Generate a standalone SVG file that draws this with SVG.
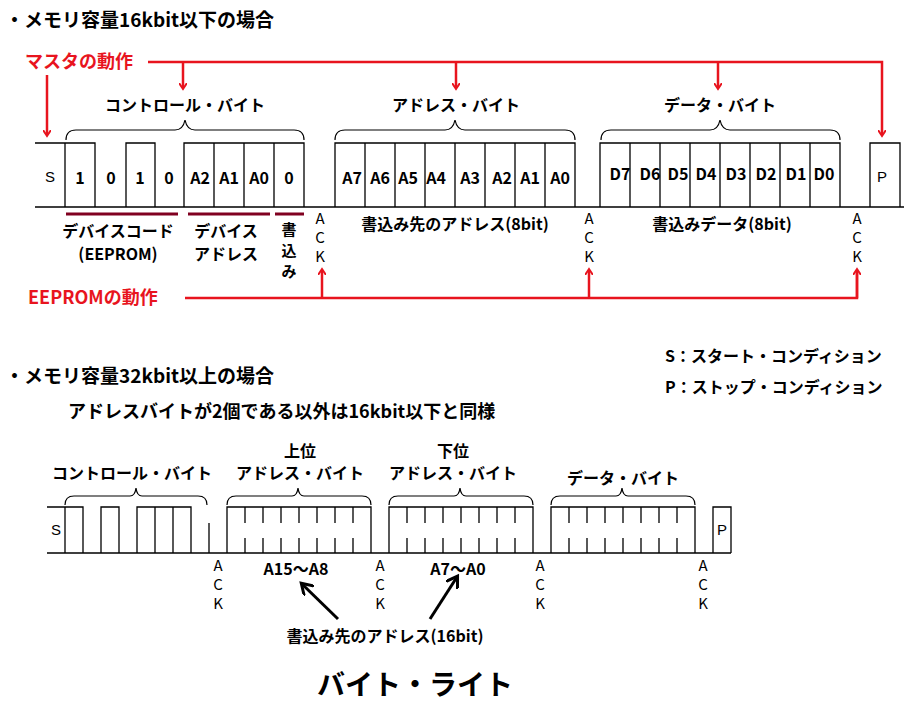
<svg xmlns="http://www.w3.org/2000/svg" width="906" height="707" viewBox="0 0 906 707">
<defs>
<style>
text{font-family:"Noto Sans CJK JP","Liberation Sans",sans-serif;fill:#000}
.b{font-weight:bold;font-size:16px}
.h{font-weight:bold;font-size:19px}
.s{font-size:15px;font-family:"Liberation Sans",sans-serif}
.r{fill:#e8141e;font-weight:bold;font-size:18px}
.w{fill:none;stroke:#000;stroke-width:1.3}
.br{fill:none;stroke:#000;stroke-width:1.2}
.rl{stroke:#e8141e;stroke-width:2.5;fill:none}
.u{stroke:#800020;stroke-width:3}
.k{stroke:#000;stroke-width:3;fill:none}
</style>
<marker id="ra" markerWidth="8" markerHeight="8" refX="5" refY="4" orient="auto" markerUnits="userSpaceOnUse" viewBox="0 0 8 8"><path d="M0,0L6,4L0,8" fill="none" stroke="#e8141e" stroke-width="2"/></marker>
<marker id="ka" markerWidth="14" markerHeight="14" refX="10" refY="7" orient="auto" markerUnits="userSpaceOnUse" viewBox="0 0 14 14"><path d="M0,0L11,7L0,14" fill="none" stroke="#000" stroke-width="3"/></marker>
</defs>
<rect width="906" height="707" fill="#fff"/>
<text class="h" x="5" y="27">・メモリ容量16kbit以下の場合</text>
<text class="h" x="5" y="383">・メモリ容量32kbit以上の場合</text>
<text class="h" x="68" y="418" style="font-size:18px">アドレスバイトが2個である以外は16kbit以下と同様</text>
<text class="b" x="665" y="362">S：スタート・コンディション</text>
<text class="b" x="665" y="393">P：ストップ・コンディション</text>
<g id="top-wave">
<path class="w" d="M35,207H904M35,143H65V207M65,143H95V207M126,207V143H155V207M184,207V143H304V207M214,143V207M244,143V207M274,143V207M304,163V207M335,207V143H575V207M600,207V143H840V207M870,207V143H900V207"/>
<path class="w" d="M365,143v64M395,143v64M425,143v64M455,143v64M485,143v64M515,143v64M545,143v64M630,143v64M660,143v64M690,143v64M720,143v64M750,143v64M780,143v64M810,143v64"/>
<text class="s" x="50" y="182" text-anchor="middle">S</text>
<g class="b" text-anchor="middle">
<text x="80" y="184">1</text><text x="111" y="184">0</text><text x="140" y="184">1</text><text x="169" y="184">0</text>
<text x="200" y="184">A2</text><text x="229" y="184">A1</text><text x="259" y="184">A0</text><text x="289" y="184">0</text>
<text x="352" y="184">A7</text><text x="380" y="184">A6</text><text x="408" y="184">A5</text><text x="436" y="184">A4</text><text x="470" y="184">A3</text><text x="502" y="184">A2</text><text x="530" y="184">A1</text><text x="560" y="184">A0</text>
<text x="620" y="180">D7</text><text x="650" y="180">D6</text><text x="678" y="180">D5</text><text x="706" y="180">D4</text><text x="736" y="180">D3</text><text x="766" y="180">D2</text><text x="796" y="180">D1</text><text x="824" y="180">D0</text>
</g>
<text class="s" x="882" y="182" text-anchor="middle">P</text>
</g>
<g id="top-braces">
<path class="br" d="M66,140q0,-10 10,-10H175q8,0 10,-10q2,10 10,10H294q10,0 10,10"/>
<path class="br" d="M335,140q0,-10 10,-10H445q8,0 10,-10q2,10 10,10H565q10,0 10,10"/>
<path class="br" d="M601,140q0,-10 10,-10H710q8,0 10,-10q2,10 10,10H830q10,0 10,10"/>
<text class="b" x="185" y="111" text-anchor="middle">コントロール・バイト</text>
<text class="b" x="456" y="111" text-anchor="middle">アドレス・バイト</text>
<text class="b" x="720" y="111" text-anchor="middle">データ・バイト</text>
</g>
<g id="top-labels">
<path class="u" d="M66,214H178M188,214H270M275,214H304"/>
<g class="b" text-anchor="middle">
<text x="118" y="237">デバイスコード</text><text x="118" y="260">(EEPROM)</text>
<text x="226" y="237">デバイス</text><text x="226" y="260">アドレス</text>
<text x="289" y="235" style="font-size:15px">書</text><text x="289" y="256" style="font-size:15px">込</text><text x="289" y="277" style="font-size:15px">み</text>
<text x="455" y="230">書込み先のアドレス(8bit)</text>
<text x="722" y="230">書込みデータ(8bit)</text>
</g>
<g class="s" text-anchor="middle">
<text x="320" y="224">A</text><text x="320" y="243">C</text><text x="320" y="262">K</text>
<text x="589" y="224">A</text><text x="589" y="243">C</text><text x="589" y="262">K</text>
<text x="857" y="224">A</text><text x="857" y="243">C</text><text x="857" y="262">K</text>
</g>
</g>
<g id="red-arrows">
<text class="r" x="25" y="68">マスタの動作</text>
<text class="r" x="28" y="304">EEPROMの動作</text>
<path class="rl" d="M148,62H882V135" marker-end="url(#ra)"/>
<path class="rl" d="M183,62V88" marker-end="url(#ra)"/><path class="rl" d="M456,62V88" marker-end="url(#ra)"/><path class="rl" d="M718,62V88" marker-end="url(#ra)"/><path class="rl" d="M47,75V135" marker-end="url(#ra)"/>
<path class="rl" d="M185,298H857V270"/>
<path class="rl" d="M322,298V270" marker-end="url(#ra)"/><path class="rl" d="M589,298V270" marker-end="url(#ra)"/><path class="rl" d="M857,298V270" marker-end="url(#ra)"/>
</g>
<g id="bottom-wave">
<path class="w" d="M47,553H731M47,507H65V553M65,507H83V553M101,553V507H119V553M137,553V507H191V553M155,507V553M173,507V553M209,523V553M227,553V507H371V553M389,553V507H533V553M551,553V507H695V553M713,553V507H731V553"/>
<path class="w" d="M245,507v16M263,507v16M281,507v16M299,507v16M317,507v16M335,507v16M353,507v16M245,538v15M263,538v15M281,538v15M299,538v15M317,538v15M335,538v15M353,538v15"/>
<path class="w" d="M407,507v16M425,507v16M443,507v16M461,507v16M479,507v16M497,507v16M515,507v16M407,538v15M425,538v15M443,538v15M461,538v15M479,538v15M497,538v15M515,538v15"/>
<path class="w" d="M569,507v16M587,507v16M605,507v16M623,507v16M641,507v16M659,507v16M677,507v16M569,538v15M587,538v15M605,538v15M623,538v15M641,538v15M659,538v15M677,538v15"/>
<text class="s" x="56" y="535" text-anchor="middle">S</text>
<text class="s" x="722" y="535" text-anchor="middle">P</text>
</g>
<g id="bottom-braces">
<path class="br" d="M65,505q0,-9 9,-9H130q5,0 6,-8q1,8 6,8H198q9,0 9,9"/>
<path class="br" d="M227,505q0,-9 9,-9H292q5,0 6,-8q1,8 6,8H362q9,0 9,9"/>
<path class="br" d="M389,505q0,-9 9,-9H454q5,0 6,-8q1,8 6,8H524q9,0 9,9"/>
<path class="br" d="M551,505q0,-9 9,-9H616q5,0 6,-8q1,8 6,8H686q9,0 9,9"/>
<text class="b" x="132" y="479" text-anchor="middle">コントロール・バイト</text>
<text class="b" x="300" y="457" text-anchor="middle">上位</text>
<text class="b" x="300" y="479" text-anchor="middle">アドレス・バイト</text>
<text class="b" x="453" y="457" text-anchor="middle">下位</text>
<text class="b" x="453" y="479" text-anchor="middle">アドレス・バイト</text>
<text class="b" x="623" y="484" text-anchor="middle">データ・バイト</text>
</g>
<g id="bottom-labels">
<g class="s" text-anchor="middle">
<text x="218" y="571">A</text><text x="218" y="590">C</text><text x="218" y="609">K</text>
<text x="380" y="571">A</text><text x="380" y="590">C</text><text x="380" y="609">K</text>
<text x="540" y="571">A</text><text x="540" y="590">C</text><text x="540" y="609">K</text>
<text x="703" y="571">A</text><text x="703" y="590">C</text><text x="703" y="609">K</text>
</g>
<text class="b" x="296" y="575" text-anchor="middle">A15～A8</text>
<text class="b" x="458" y="575" text-anchor="middle">A7～A0</text>
<text class="b" x="385" y="642" text-anchor="middle">書込み先のアドレス(16bit)</text>
<path class="k" d="M338,619L302,584" marker-end="url(#ka)"/>
<path class="k" d="M430,619L457,577" marker-end="url(#ka)"/>
<text x="415" y="695" text-anchor="middle" style="font-weight:bold;font-size:28px">バイト・ライト</text>
</g>
</svg>
